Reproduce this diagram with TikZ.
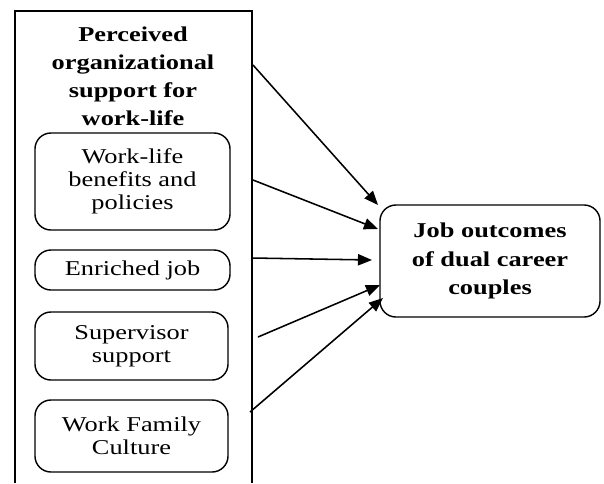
\documentclass[tikz,border=0pt]{standalone}
\usepackage{fontspec}
\setmainfont{Liberation Serif}
\newfontfamily\widefont{Liberation Serif}[FakeStretch=1.25]
\usetikzlibrary{arrows.meta}
\tikzset{
	factor/.style={
		draw,
		rounded corners=0.4cm,
		line width=1pt,
		align=center,
		inner sep=0pt,
		font=\widefont\fontsize{15}{16.5}\selectfont
	},
	link/.style={
		line width=1.1pt,
		-{Triangle[length=10pt,width=8pt]}
	}
}

\begin{document}
\begin{tikzpicture}[x=0.025cm,y=-0.025cm]
			\useasboundingbox (0,0) rectangle (604,483);
			\draw[line width=1pt] (15,483) -- (15,11) -- (252,11) -- (252,483);
			\node[align=center, font=\widefont\fontsize{15}{20}\bfseries\selectfont] (pos) at (133,76) {Perceived\\organizational\\support for\\work-life};
			\node[factor, minimum width=4.875cm, minimum height=2.425cm] (wlb) at (132.5,181.5) {Work-life\\benefits and\\policies};
			\node[factor, minimum width=4.875cm, minimum height=1.0cm] (enr) at (132.5,270) {Enriched job};
			\node[factor, minimum width=4.825cm, minimum height=1.7cm] (sup) at (131.5,346) {Supervisor\\support};
			\node[factor, minimum width=4.825cm, minimum height=1.8cm] (wfc) at (131.5,436) {Work Family\\Culture};
			\node[factor, minimum width=5.5cm, minimum height=2.8cm, font=\widefont\fontsize{15}{20}\bfseries\selectfont] (job) at (490,261) {Job outcomes\\of dual career\\couples};
			\coordinate (s1) at (253,65);
			\coordinate (s2) at (253,180);
			\coordinate (s3) at (252,258);
			\coordinate (s4) at (258,337);
			\coordinate (s5) at (250,412);
			\coordinate (t1) at (378,205);
			\coordinate (t2) at (378,229);
			\coordinate (t3) at (372,260);
			\coordinate (t4) at (380,285);
			\coordinate (t5) at (383,298);
			\draw[link] (s1) -- (t1);
			\draw[link] (s2) -- (t2);
			\draw[link] (s3) -- (t3);
			\draw[link] (s4) -- (t4);
			\draw[link] (s5) -- (t5);
		\end{tikzpicture}
\end{document}
